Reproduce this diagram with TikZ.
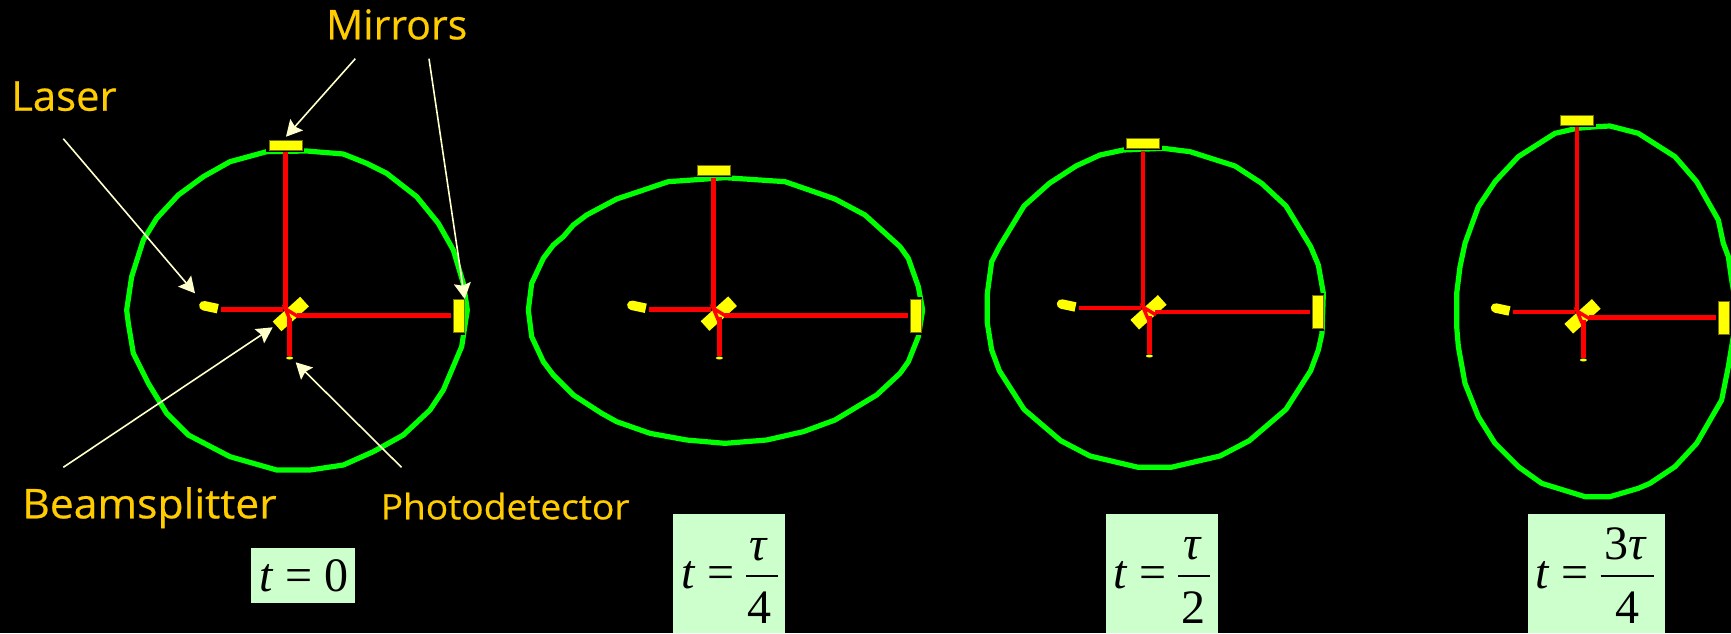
\documentclass[tikz,border=0pt]{standalone}
\usepackage{fontspec}
\setmainfont{Open Sans}
\newfontfamily\lblf[FakeBold=0.5]{Open Sans}
\newfontfamily\tms{Liberation Serif}
\usetikzlibrary{arrows.meta,shapes.misc,shapes.geometric}
\definecolor{lab}{HTML}{FFCC00}
\definecolor{cream}{HTML}{FFFFCC}
\definecolor{pale}{HTML}{CCFFCC}
\definecolor{grn}{HTML}{00FF00}
\definecolor{ylw}{HTML}{FFFF00}
\definecolor{rd}{HTML}{FF0000}
\tikzset{
  x=1pt,y=-1pt,
  ring/.style={draw=grn,line width=5.2pt,line join=round},
  beam/.style={draw=rd,line width=4.6pt},
  opt/.style={fill=ylw,draw=black!55!ylw,line width=.6pt,inner sep=0pt},
  call/.style={draw=cream,line width=1.6pt,-{Stealth[length=16pt,width=17pt,inset=2.5pt]}},
  lbl/.style={text=lab,inner sep=0pt,anchor=base west},
  pane/.style={fill=pale,inner sep=0pt,anchor=north west},
  mth/.style={text=black,inner sep=0pt,font=\tms\fontsize{48}{48}\selectfont},
  zm/.style={x=.33333pt,y=-.33333pt},
}
% id, beam x, top mirror y, left beam y, right beam y, right mirror x, detector x, detector y
\newcommand{\rig}[8]{
  \fill[black] ({#2-19},{#3-6}) rectangle ({#2+19},{#3+7});
  \fill[black] ({#6-7},{#5-19}) rectangle ({#6+6},{#5+19});
  \node[opt,minimum width=33pt,minimum height=10pt] (tm#1) at (#2,#3) {};
  \node[opt,minimum width=11pt,minimum height=33pt] (rm#1) at (#6,#5) {};
  \node[fill=ylw,inner sep=0pt,rounded rectangle,rounded rectangle right arc=none,minimum width=19pt,minimum height=9.5pt,rotate=-12] (las#1) at ({#2-76.8},{#4-3}) {};
  \node[fill=ylw,inner sep=0pt,minimum width=37pt,minimum height=13pt,rotate=42] (bs#1) at ({#2+5.5},{#4+4.3}) {};
  \node[fill=ylw,ellipse,inner sep=0pt,minimum width=7pt,minimum height=3pt] (det#1) at (#7,#8) {};
  \coordinate (vb#1) at (#2,{#4-1});
  \coordinate (lb#1) at ({#2-2},#4);
  \coordinate (rb#1) at ({#2+12},#5);
  \coordinate (db#1) at (#7,{#4+8});
  \coordinate (ya#1) at ({#2+13},{#4+7});
  \coordinate (yb#1) at ({#2+5},{#4+11});
  \draw[beam] (tm#1.south) ++(0,2) -- (vb#1);
  \draw[beam,shorten <=3.5pt] (las#1.east |- lb#1) -- (lb#1);
  \draw[beam,shorten >=2pt] (rb#1) -- (rm#1.west |- rb#1);
  \draw[beam] (db#1) -- (det#1.north);
  \draw[draw=rd,line width=3.4pt] (ya#1) -- (vb#1) -- (yb#1);
}
\begin{document}
\begin{tikzpicture}
\useasboundingbox (0,0) rectangle (1731,633);
\fill[black] (0,0) rectangle (1731,633);

\begin{scope}[shift={(110,140)},zm]
\draw[ring] (590,33)--(700,42)--(770,70)--(830,100)--(920,170)--(985,250)--(1030,330)--(1060,430)--(1072,510)--(1055,620)--(1000,750)--(960,810)--(880,885)--(790,935)--(700,975)--(600,990)--(500,990)--(360,950)--(235,885)--(170,820)--(115,730)--(70,640)--(55,550)--(50,510)--(65,410)--(100,300)--(140,235)--(205,165)--(280,110)--(360,65)--(470,35)--cycle;
\end{scope}
\begin{scope}[shift={(520,150)},zm]
\draw[ring] (615,83)--(795,95)--(945,147)--(1035,195)--(1140,290)--(1165,325)--(1195,410)--(1208,480)--(1195,560)--(1165,635)--(1140,670)--(1070,735)--(945,810)--(850,845)--(740,870)--(615,880)--(500,870)--(390,850)--(290,815)--(245,790)--(160,735)--(100,675)--(70,635)--(35,560)--(25,480)--(35,400)--(70,325)--(100,285)--(130,260)--(160,225)--(200,195)--(290,147)--(445,95)--cycle;
\end{scope}
\begin{scope}[shift={(970,130)},zm]
\draw[ring] (460,60)--(390,75)--(318,108)--(238,160)--(162,228)--(88,350)--(65,395)--(52,490)--(52,580)--(65,660)--(88,722)--(162,838)--(272,932)--(360,978)--(505,1012)--(603,1012)--(750,978)--(838,932)--(948,838)--(1022,722)--(1045,660)--(1056,610)--(1060,490)--(1045,405)--(1022,350)--(948,228)--(875,160)--(795,108)--(660,65)--(580,55)--cycle;
\end{scope}
\begin{scope}[shift={(1430,100)},zm]
\draw[ring] (500,80)--(540,78)--(625,100)--(735,170)--(800,245)--(865,360)--(880,430)--(895,470)--(905,540)--(915,600)--(915,680)--(905,740)--(895,800)--(875,900)--(800,1030)--(735,1100)--(660,1150)--(625,1165)--(540,1190)--(465,1190)--(335,1150)--(265,1100)--(195,1030)--(145,950)--(105,850)--(85,740)--(80,680)--(80,580)--(90,500)--(105,430)--(145,320)--(195,245)--(265,170)--(375,100)--(440,85)--cycle;
\end{scope}

\rig{a}{285.3}{145}{309.7}{315.7}{459}{289.7}{358}
\rig{b}{713.3}{170.3}{309.3}{315.7}{915.7}{719.3}{358}
\rig{c}{1143}{143.3}{308}{312}{1317.7}{1149.3}{356}
\rig{d}{1577}{120}{312}{317.3}{1724}{1583.3}{360}

% labels
\node[lbl,font=\lblf\fontsize{41}{41}\selectfont] (mirrors) at (326,39.3) {Mirrors};
\node[lbl,font=\lblf\fontsize{41}{41}\selectfont,xscale=1.02] (laser) at (11,110.7) {Laser};
\node[lbl,font=\lblf\fontsize{41}{41}\selectfont,xscale=1.04] (splitter) at (22,518.3) {Beamsplitter};
\node[lbl,font=\lblf\fontsize{35}{35}\selectfont,xscale=1.06] (photo) at (380.5,519.3) {Photodetector};

% callouts
\coordinate (m1s) at (355.3,58.7); \coordinate (m1e) at (286,136.7);
\coordinate (m2s) at (429,58.7);   \coordinate (m2e) at (464.7,299);
\coordinate (ls)  at (63.3,138.7); \coordinate (le)  at (195,293.3);
\coordinate (ss)  at (63.3,467.3); \coordinate (se)  at (272.7,327.3);
\coordinate (ps)  at (401.5,467.3);\coordinate (pe)  at (295.7,362.3);
\draw[call] (m1s) -- (m1e);
\draw[call] (m2s) -- (m2e);
\draw[call] (ls) -- (le);
\draw[call] (ss) -- (se);
\draw[call] (ps) -- (pe);

% time boxes
\node[pane,minimum width=104pt,minimum height=55pt] (boxa) at (251,548) {};
\node[pane,minimum width=112pt,minimum height=119pt] (boxb) at (673,514) {};
\node[pane,minimum width=112pt,minimum height=119pt] (boxc) at (1106,514) {};
\node[pane,minimum width=137pt,minimum height=119pt] (boxd) at (1527.7,514) {};

\node[mth,anchor=base west] (ta) at (259,591) {\textit{t} = 0};

\node[mth,anchor=base west] (tb) at (681,588) {\textit{t} =};
\node[mth,anchor=base] (nb) at (759,560) {\textit{τ}};
\node[mth,anchor=base] (db) at (759,623.3) {4};
\coordinate (rbl) at (746,576); \coordinate (rbr) at (777.6,576);
\draw[black,line width=1.4pt] (rbl) -- (rbr);

\node[mth,anchor=base west] (tc) at (1113,588) {\textit{t} =};
\node[mth,anchor=base] (nc) at (1193,559.5) {\textit{τ}};
\node[mth,anchor=base] (dc) at (1193,623.3) {2};
\coordinate (rcl) at (1178,576); \coordinate (rcr) at (1210,576);
\draw[black,line width=1.4pt] (rcl) -- (rcr);

\node[mth,anchor=base west] (td) at (1535,588) {\textit{t} =};
\node[mth,anchor=base] (nd) at (1625.6,559.5) {3\textit{τ}};
\node[mth,anchor=base] (dd) at (1627,623.3) {4};
\coordinate (rdl) at (1600.7,576); \coordinate (rdr) at (1653.9,576);
\draw[black,line width=1.4pt] (rdl) -- (rdr);
\end{tikzpicture}
\end{document}
